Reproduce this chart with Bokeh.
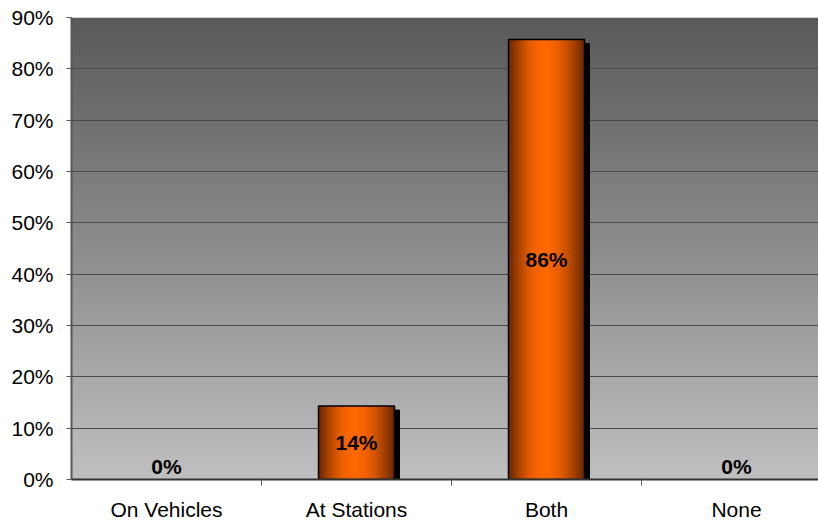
import numpy as np
from bokeh.plotting import figure
from bokeh.models import Range1d, FixedTicker
from bokeh.embed import file_html
from bokeh.resources import INLINE
from bokeh.core.properties import value

# ---- data ----
categories = ["On Vehicles", "At Stations", "Both", "None"]
values = [0.0, 14.3, 85.7, 0.0]
bar_labels = ["0%", "14%", "86%", "0%"]
y_ticks = [0, 10, 20, 30, 40, 50, 60, 70, 80, 90]
y_tick_labels = ["0%", "10%", "20%", "30%", "40%", "50%", "60%", "70%", "80%", "90%"]

FONT = "Liberation Sans"
W, H = 818, 523
LEFT, TOP, BOTTOM = 71, 17, 44
CAT_PX = 190.0
x_end = (W - LEFT) / CAT_PX
y_max = y_ticks[-1]
px_per_y = (H - TOP - BOTTOM) / y_max

p = figure(width=W, height=H, x_range=Range1d(0, x_end), y_range=Range1d(0, y_max),
           output_backend="svg", toolbar_location=None,
           min_border_left=LEFT, min_border_right=0, min_border_top=TOP,
           min_border_bottom=BOTTOM)
p.outline_line_color = None
p.background_fill_color = "white"
p.border_fill_color = "white"

# ---- gradient background (plot area) ----
N_BG = 150
ys = np.linspace(0, y_max, N_BG + 1)
bottom_c = np.array([192, 192, 192])
top_c = np.array([89, 89, 89])
bg_cols = []
for k in range(N_BG):
    t = (k + 0.5) / N_BG
    c = (bottom_c + (top_c - bottom_c) * t).astype(int)
    bg_cols.append("#%02x%02x%02x" % tuple(c))
bg_top = np.minimum(ys[1:] + 0.3, y_max)
p.quad(left=0, right=x_end, bottom=ys[:-1], top=bg_top, fill_color=bg_cols,
       line_color=None, level="image")

# ---- bars ----
bar_w = 0.4
centers = [i + 0.5 for i in range(len(categories))]
dx = 5 / CAT_PX
dy = 4 / px_per_y
dark = np.array([105, 40, 0])
bright = np.array([255, 104, 0])
N_SL = 80
peak = 0.47

sh_l, sh_r, sh_t = [], [], []
sl_l, sl_r, sl_t, sl_c = [], [], [], []
ol_l, ol_r, ol_t = [], [], []
for c, v in zip(centers, values):
    if v <= 0:
        continue
    l = c - bar_w / 2
    r = l + bar_w
    sh_l.append(l + dx); sh_r.append(r + dx); sh_t.append(v - dy)
    ol_l.append(l); ol_r.append(r); ol_t.append(v)
    for k in range(N_SL):
        t = (k + 0.5) / N_SL
        lin = t / peak if t < peak else (1 - t) / (1 - peak)
        f = np.sin(np.pi / 2 * lin)
        col = (dark + (bright - dark) * f).astype(int)
        sl_l.append(l + bar_w * k / N_SL)
        sl_r.append(min(r, l + bar_w * (k + 2) / N_SL))
        sl_t.append(v)
        sl_c.append("#%02x%02x%02x" % tuple(col))

p.quad(left=sh_l, right=sh_r, bottom=0, top=sh_t, fill_color="black", line_color="black")
p.quad(left=sl_l, right=sl_r, bottom=0, top=sl_t, fill_color=sl_c, line_color=None)
p.quad(left=ol_l, right=ol_r, bottom=0, top=ol_t, fill_color=None, line_color="black", line_width=1.5)

# ---- labels ----
lx_in = [c for c, v in zip(centers, values) if v > 0]
ly_in = [v / 2 for v in values if v > 0]
lt_in = [t for t, v in zip(bar_labels, values) if v > 0]
lx_0 = [c for c, v in zip(centers, values) if v <= 0]
lt_0 = [t for t, v in zip(bar_labels, values) if v <= 0]
p.text(x=lx_in, y=ly_in, text=lt_in, text_align="center", text_baseline="middle",
       text_font=value(FONT), text_font_style="bold", text_font_size="21px", text_color="black")
p.text(x=lx_0, y=[0] * len(lx_0), text=lt_0, text_align="center", text_baseline="bottom",
       y_offset=-2, text_font=value(FONT), text_font_style="bold", text_font_size="21px",
       text_color="black")

# ---- grid ----
p.xgrid.visible = False
p.ygrid.ticker = FixedTicker(ticks=y_ticks)
p.ygrid.grid_line_color = "#4a4a4a"
p.ygrid.grid_line_width = 1

# ---- axes ----
ya = p.yaxis[0]
ya.ticker = FixedTicker(ticks=y_ticks)
ya.major_label_overrides = {t: s for t, s in zip(y_ticks, y_tick_labels)}
ya.major_label_text_font = FONT
ya.major_label_text_font_size = "21px"
ya.major_label_text_color = "black"
ya.axis_line_color = "#555555"
ya.axis_line_width = 2
ya.major_tick_line_color = "#555555"
ya.major_tick_out = 5
ya.major_tick_in = 0
ya.minor_tick_line_color = None
ya.major_label_standoff = 13

xa = p.xaxis[0]
xa.ticker = FixedTicker(ticks=centers, minor_ticks=[1, 2, 3])
xa.major_label_overrides = {c: s for c, s in zip(centers, categories)}
xa.major_label_text_font = FONT
xa.major_label_text_font_size = "21px"
xa.major_label_text_color = "black"
xa.axis_line_color = "#333333"
xa.axis_line_width = 2
xa.major_tick_line_color = None
xa.major_tick_out = 6
xa.major_tick_in = 0
xa.minor_tick_line_color = "#555555"
xa.minor_tick_out = 6
xa.minor_tick_in = 0
xa.major_label_standoff = 12

open("out.html", "w").write(file_html(p, INLINE))
